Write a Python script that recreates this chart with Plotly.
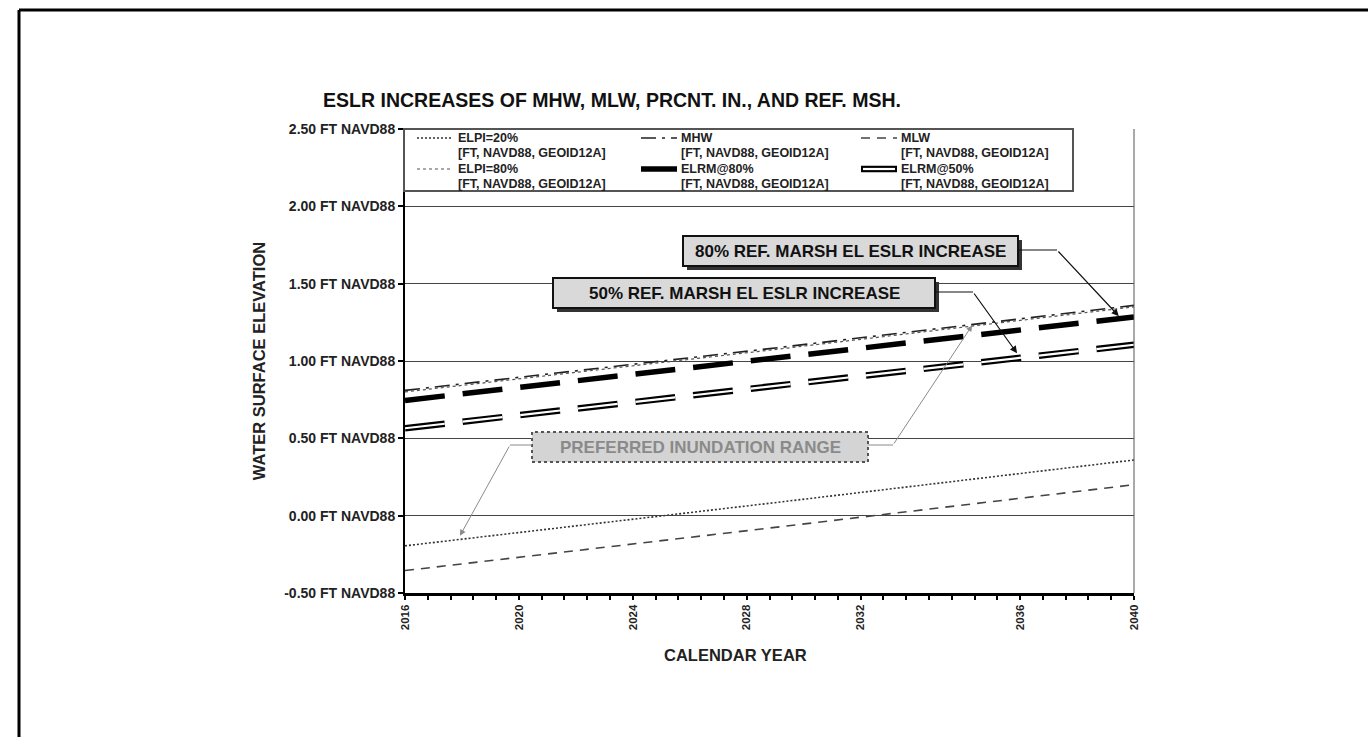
import plotly.graph_objects as go

# ---------------------------------------------------------------- data
years = [2016, 2028, 2040]

mhw = [0.81, 1.08, 1.36]          # mean high water
mlw = [-0.355, -0.08, 0.20]       # mean low water
elpi_20 = [-0.195, 0.08, 0.36]    # 20 % inundation elevation
elpi_80 = [0.80, 1.07, 1.35]      # 80 % inundation elevation
elrm_80 = [0.745, 1.015, 1.285]   # reference marsh elevation @ 80 %
elrm_50 = [0.565, 0.835, 1.105]   # reference marsh elevation @ 50 %

y_tick_values = [-0.5, 0.0, 0.5, 1.0, 1.5, 2.0, 2.5]
y_tick_labels = ["-0.50 FT NAVD88", "0.00 FT NAVD88", "0.50 FT NAVD88",
                 "1.00 FT NAVD88", "1.50 FT NAVD88", "2.00 FT NAVD88",
                 "2.50 FT NAVD88"]
x_tick_values = [2016, 2019.75, 2023.5, 2027.25, 2031.0, 2036.25, 2040]
x_tick_labels = ["2016", "2020", "2024", "2028", "2032", "2036", "2040"]

UNITS = "[FT, NAVD88, GEOID12A]"
FONT = "Liberation Sans, Arial, sans-serif"

# series drawn, in legend order (row by row)
series = [
    ("ELPI=20%", elpi_20, dict(color="#333333", width=1.6, dash="2px,2px")),
    ("MHW", mhw, dict(color="#222222", width=1.6, dash="longdashdot")),
    ("MLW", mlw, dict(color="#444444", width=1.6, dash="9px,7px")),
    ("ELPI=80%", elpi_80, dict(color="#555555", width=1.2, dash="3px,3px")),
    ("ELRM@80%", elrm_80, dict(color="#000000", width=5.5, dash="40px,18px")),
    ("ELRM@50%", elrm_50, dict(color="#000000", width=6.5, dash="40px,18px")),
]
HOLLOW = "ELRM@50%"
HOLLOW_CORE = dict(color="#ffffff", width=2.2, dash="40px,18px")

# ---------------------------------------------------------------- layout geometry (pixels)
W, H = 1368, 737
L, R, T, B = 405, 1134, 129, 593


def px(xp):
    return (xp - L) / (R - L)


def py(yp):
    return (B - yp) / (B - T)


fig = go.Figure()
draw_order = ["ELPI=20%", "MLW", "ELPI=80%", "MHW", "ELRM@80%", "ELRM@50%"]
lookup = {name: (vals, style) for name, vals, style in series}
for name in draw_order:
    vals, style = lookup[name]
    fig.add_trace(go.Scatter(x=years, y=vals, name=name, mode="lines",
                             showlegend=False, line=style))
    if name == HOLLOW:
        fig.add_trace(go.Scatter(x=years, y=vals, mode="lines", showlegend=False,
                                 hoverinfo="skip", line=HOLLOW_CORE))

annotations = []
shapes = []

# ---------------------------------------------------------------- legend block
shapes.append(dict(type="rect", xref="paper", yref="paper",
                   x0=px(404), x1=px(1073), y0=py(191), y1=py(129),
                   fillcolor="white", line=dict(color="#555555", width=2), layer="above"))
legend_cols = [(417, 453, 456), (641, 677, 679), (861, 897, 899)]
legend_rows = [138, 169]
for i, (name, _, style) in enumerate(series):
    s0, s1, tx = legend_cols[i % 3]
    ry = legend_rows[i // 3]
    sample = dict(style)
    if name in ("ELRM@80%", "ELRM@50%"):
        sample["dash"] = "solid"
    shapes.append(dict(type="line", xref="paper", yref="paper",
                       x0=px(s0), x1=px(s1), y0=py(ry), y1=py(ry),
                       line=sample, layer="above"))
    if name == HOLLOW:
        shapes.append(dict(type="line", xref="paper", yref="paper",
                           x0=px(s0 + 2), x1=px(s1 - 2), y0=py(ry), y1=py(ry),
                           line=dict(color="#ffffff", width=2.2), layer="above"))
    for k, txt in enumerate([name, UNITS]):
        annotations.append(dict(text="<b>%s</b>" % txt, xref="paper", yref="paper",
                                x=px(tx), y=py(ry + 15 * k), xanchor="left",
                                yanchor="middle", showarrow=False,
                                font=dict(family=FONT, size=12.5, color="#222222")))


# ---------------------------------------------------------------- callout boxes
def callout(text, x0, x1, y0, y1, size, fill, edge, txtcolor, shadow):
    if shadow:
        shapes.append(dict(type="rect", xref="paper", yref="paper",
                           x0=px(x0 + 4), x1=px(x1 + 4), y0=py(y1 + 4), y1=py(y0 + 4),
                           fillcolor="#333333", line=dict(width=0), layer="above"))
        shapes.append(dict(type="rect", xref="paper", yref="paper",
                           x0=px(x0), x1=px(x1), y0=py(y1), y1=py(y0),
                           fillcolor=fill, line=dict(color=edge, width=2), layer="above"))
    else:
        shapes.append(dict(type="rect", xref="paper", yref="paper",
                           x0=px(x0), x1=px(x1), y0=py(y1), y1=py(y0),
                           fillcolor=fill, line=dict(color=edge, width=2, dash="dot"),
                           layer="above"))
    annotations.append(dict(text="<b>%s</b>" % text, xref="paper", yref="paper",
                            x=px((x0 + x1) / 2), y=py((y0 + y1) / 2),
                            xanchor="center", yanchor="middle", showarrow=False,
                            font=dict(family=FONT, size=size, color=txtcolor)))


def leader(x_from_px, y_px, elbow_px, tip_year, tip_val, color, width):
    # horizontal run from the box edge to the elbow, then an arrow to the line
    shapes.append(dict(type="line", xref="paper", yref="paper",
                       x0=px(x_from_px), x1=px(elbow_px), y0=py(y_px), y1=py(y_px),
                       line=dict(color=color, width=width), layer="above"))
    tail_year = 2016 + (elbow_px - L) * 24 / (R - L)
    tail_val = -0.5 + (B - y_px) * 3 / (B - T)
    annotations.append(dict(x=tip_year, y=tip_val, ax=tail_year, ay=tail_val,
                            xref="x", yref="y", axref="x", ayref="y", text="",
                            showarrow=True, arrowhead=2, arrowsize=1.2,
                            arrowwidth=width, arrowcolor=color))


callout("80% REF. MARSH EL ESLR INCREASE", 683, 1018, 236, 266, 17,
        "#d9d9d9", "#111111", "#111111", True)
leader(1018, 250, 1057, 2039.5, 1.29, "#111111", 1.2)

callout("50% REF. MARSH EL ESLR INCREASE", 553, 935, 278, 308, 17,
        "#d9d9d9", "#111111", "#111111", True)
leader(935, 292, 973, 2036.15, 1.05, "#111111", 1.2)

callout("PREFERRED INUNDATION RANGE", 532, 868, 432, 462, 17,
        "#d4d4d4", "#555555", "#8a8a8a", False)
leader(532, 445, 510, 2017.81, -0.13, "#8a8a8a", 1.0)
leader(868, 445, 893, 2034.67, 1.23, "#8a8a8a", 1.0)

# x-axis title
annotations.append(dict(text="<b>CALENDAR YEAR</b>", xref="paper", yref="paper",
                        x=px(735), y=py(655), xanchor="center", yanchor="middle",
                        showarrow=False,
                        font=dict(family=FONT, size=16.5, color="#222222")))

# plot-area right edge and page frame
shapes.append(dict(type="line", xref="paper", yref="paper", x0=1, x1=1, y0=0, y1=1,
                   line=dict(color="#555555", width=1)))
shapes.append(dict(type="line", xref="paper", yref="paper",
                   x0=px(19), x1=px(W), y0=py(10), y1=py(10),
                   line=dict(color="#000000", width=3)))
shapes.append(dict(type="line", xref="paper", yref="paper",
                   x0=px(19), x1=px(19), y0=py(10), y1=py(H),
                   line=dict(color="#000000", width=3)))

fig.update_layout(
    width=W, height=H,
    margin=dict(l=L, r=W - R, t=T, b=H - B),
    paper_bgcolor="white", plot_bgcolor="white",
    font=dict(family=FONT, color="#222222"),
    title=dict(text="<b>ESLR INCREASES OF MHW, MLW, PRCNT. IN., AND REF. MSH.</b>",
               x=612 / W, xanchor="center", y=1 - 100 / H, yanchor="middle",
               font=dict(family=FONT, size=19.5, color="#111111")),
    showlegend=False,
    annotations=annotations,
    shapes=shapes,
)

fig.update_xaxes(range=[2016, 2040], tickvals=x_tick_values, ticktext=x_tick_labels,
                 tickangle=-90, showgrid=False, zeroline=False,
                 showline=True, linecolor="#000000", linewidth=3,
                 ticks="outside", ticklen=4, tickcolor="#000000", tickwidth=1.5,
                 tickfont=dict(family=FONT, size=11.5, color="#222222", weight="bold"),
                 minor=dict(tick0=2016, dtick=0.75, ticks="outside", ticklen=4,
                            tickcolor="#000000", tickwidth=1.5))
fig.update_yaxes(range=[-0.5, 2.5], tickvals=y_tick_values, ticktext=y_tick_labels,
                 showgrid=True, gridcolor="#444444", gridwidth=1,
                 zeroline=True, zerolinecolor="#444444", zerolinewidth=1,
                 showline=True, linecolor="#000000", linewidth=2,
                 ticks="outside", ticklen=5, tickcolor="#000000", tickwidth=1.5,
                 tickfont=dict(family=FONT, size=14, color="#222222", weight="bold"),
                 title=dict(text="<b>WATER SURFACE ELEVATION</b>", standoff=14,
                            font=dict(family=FONT, size=16.5, color="#222222")))

fig.write_html("out.html")
